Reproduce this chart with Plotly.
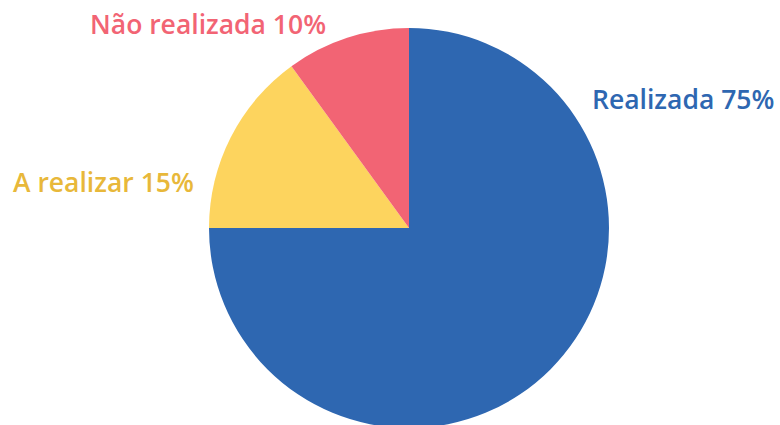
import plotly.graph_objects as go

labels = ["Realizada", "A realizar", "Não realizada"]
values = [75, 15, 10]
slice_colors = ["#2E67B1", "#FDD45E", "#F26474"]
label_colors = ["#2E67B1", "#E8B83A", "#F26474"]

fig = go.Figure(go.Pie(
    labels=labels,
    values=values,
    sort=False,
    direction="clockwise",
    rotation=0,
    marker=dict(colors=slice_colors, line=dict(width=0)),
    textinfo="none",
    hoverinfo="label+percent",
    showlegend=False,
))

# label placement (pixel centres in the page); converted to plot-area fractions
label_pos = [(683, 99), (103, 182), (208, 24)]
for lab, v, c, (px, py) in zip(labels, values, label_colors, label_pos):
    fig.add_annotation(
        x=(px - 209) / 400, y=(428 - py) / 400, xref="paper", yref="paper",
        text=f"{lab} {v}%", showarrow=False,
        xanchor="center", yanchor="middle",
        font=dict(family="Open Sans", size=26.5, color=c, weight=600),
    )

fig.update_layout(
    width=780, height=428,
    margin=dict(l=209, r=171, t=28, b=0),
    paper_bgcolor="white",
    plot_bgcolor="white",
)

fig.write_html(
    "out.html",
    config={"displayModeBar": False},
    post_script="document.body.style.margin='0';document.body.style.overflow='hidden';",
)
